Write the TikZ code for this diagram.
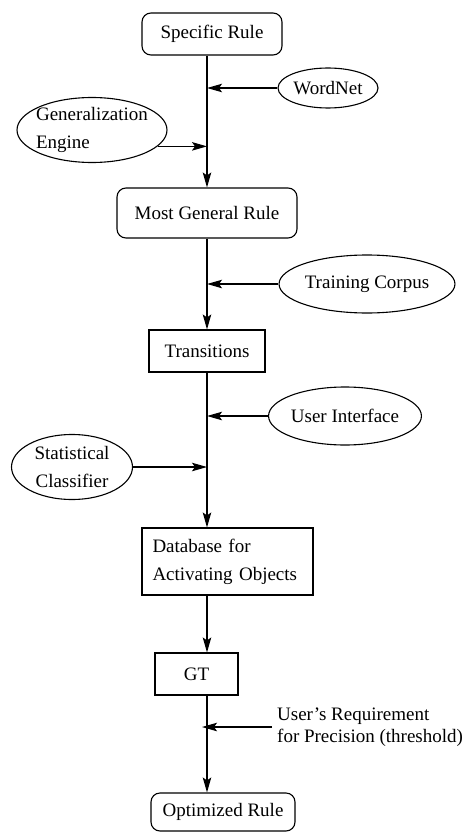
\documentclass[tikz,border=0pt]{standalone}
\usepackage{fontspec}
\setmainfont{Liberation Serif}
\usetikzlibrary{arrows.meta,positioning,shapes.geometric}

\begin{document}
\begin{tikzpicture}[x=1pt, y=-1pt,
    every node/.style={font=\fontsize{19}{28}\selectfont},
    rulebox/.style={draw, line width=1.1pt, rounded corners=9pt, inner sep=0pt},
    plainbox/.style={draw, line width=1.1pt, inner sep=0pt},
    source/.style={draw, ellipse, line width=1.1pt, inner sep=0pt},
    feed/.style={line width=1.1pt, -{Stealth[length=15pt,width=8.5pt,inset=3pt]}}]
    \useasboundingbox (0,0) rectangle (471,832);
    \coordinate (spine) at (207,0);

    \node[rulebox, minimum width=140, minimum height=42] (spec) at (212,34) {Specific Rule};
    \node[source, minimum width=100, minimum height=40] (wordnet) at (328,88) {WordNet};
    \node[source, minimum width=150, minimum height=65, inner sep=-7pt, align=left] (gen) at (92,130) {Generalization\\Engine};
    \node[rulebox, minimum width=180, minimum height=50] (most) at (207,213) {Most General Rule};
    \node[source, minimum width=145, minimum height=58] (train) at (367,284) {Training Corpus};
    \node[plainbox, minimum width=116, minimum height=42] (trans) at (207,351) {Transitions};
    \node[source, minimum width=134, minimum height=58] (ui) at (345,416) {User Interface};
    \node[source, minimum width=121, minimum height=65, inner sep=-3pt, align=center] (stat) at (72,467) {Statistical\\Classifier};
    \node[plainbox, minimum width=171, minimum height=67, align=left, text width=150] (db) at (227.5,561.5) {Database for\\Activating Objects};
    \node[plainbox, minimum width=83, minimum height=42] (gt) at (196.5,674) {GT};
    \node[anchor=west, align=left, inner sep=0pt, font=\fontsize{19}{22}\selectfont] (req) at (277,727) {User's Requirement\\for Precision (threshold)};
    \node[rulebox, minimum width=144, minimum height=38] (opt) at (223,812) {Optimized Rule};

    \draw[feed] (spec.south -| spine) -- (most.north -| spine);
    \draw[feed] (most.south -| spine) -- (trans.north -| spine);
    \draw[feed] (trans.south -| spine) -- (db.north -| spine);
    \draw[feed] (db.south -| spine) -- (gt.north -| spine);
    \draw[feed] (gt.south -| spine) -- (opt.north -| spine);

    \draw[feed] (wordnet.west) -- (wordnet.west -| spine);
    \draw[feed] (gen.-14) -- (gen.-14 -| spine);
    \draw[feed] (train.west) -- (train.west -| spine);
    \draw[feed] (ui.west) -- (ui.west -| spine);
    \draw[feed] (stat.east) -- (stat.east -| spine);
    \draw[feed] ([xshift=-5pt]req.west) -- ([xshift=-5pt]req.west -| spine);
\end{tikzpicture}
\end{document}
